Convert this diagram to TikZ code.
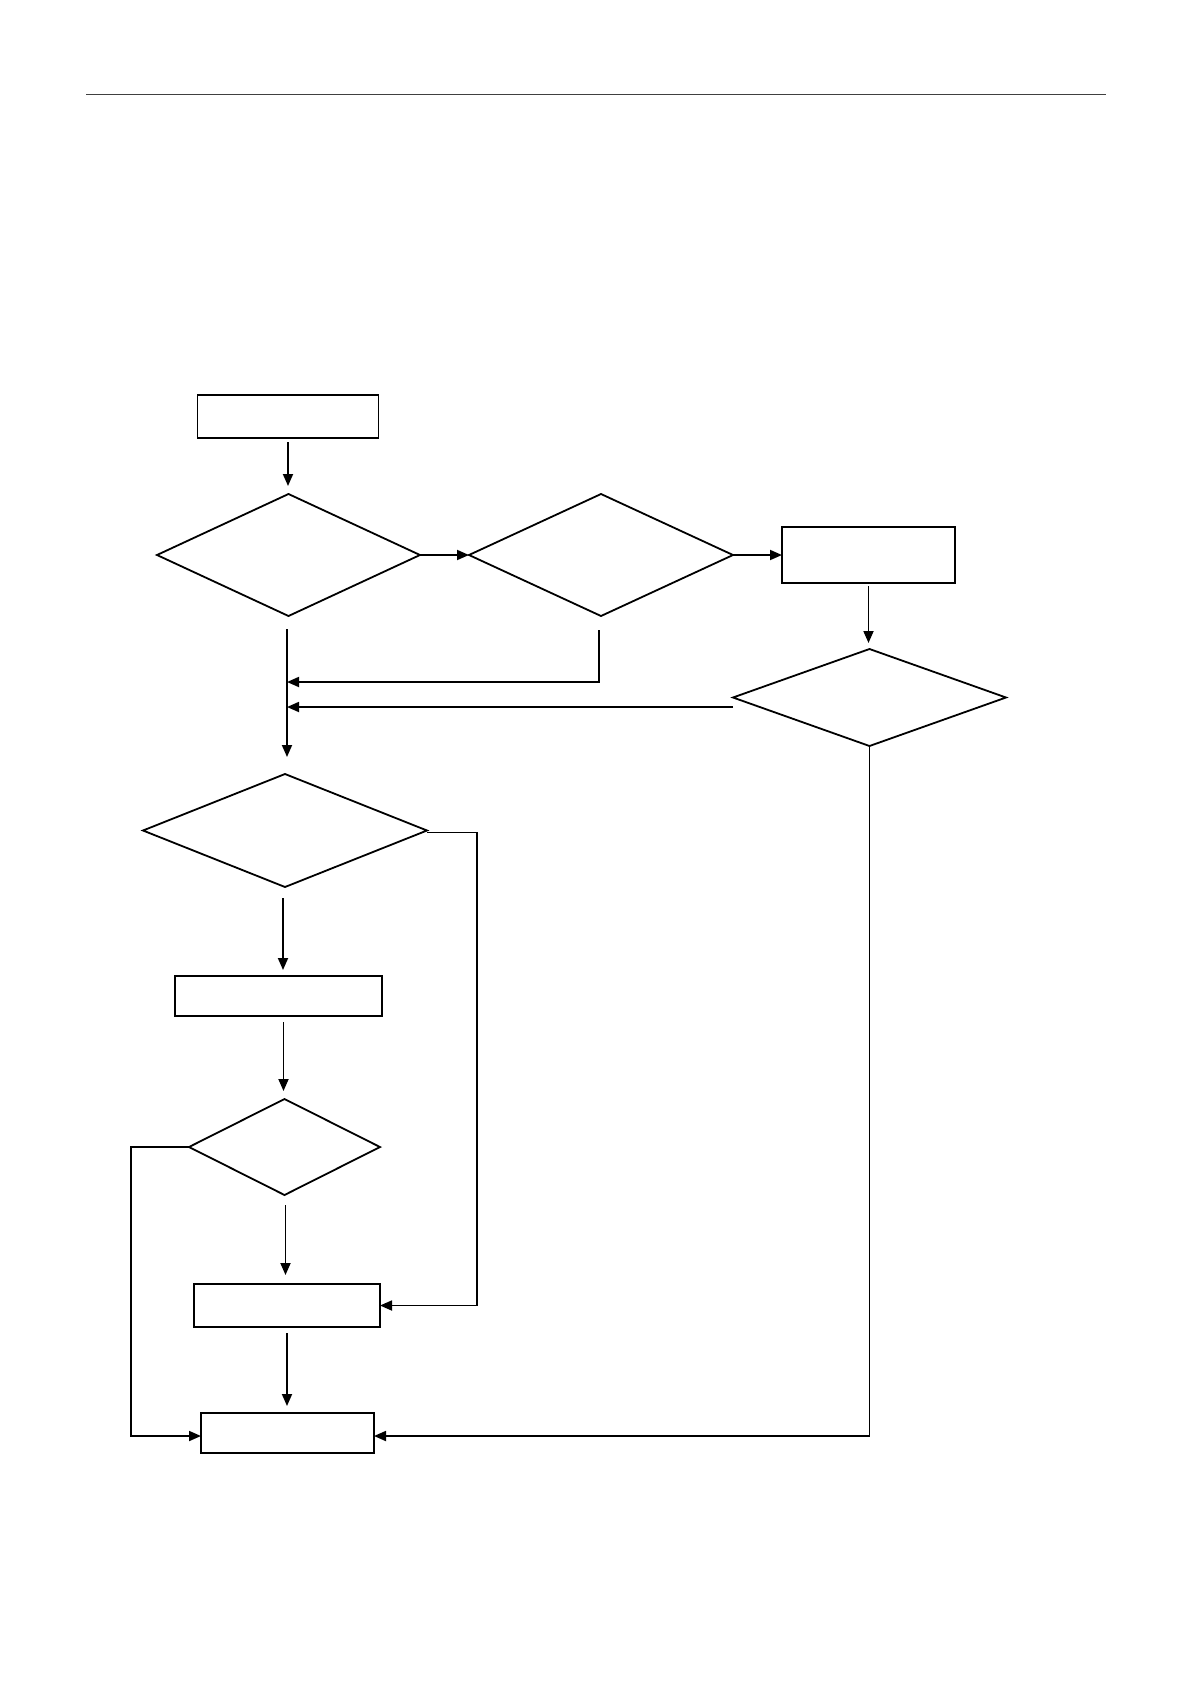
\documentclass[tikz,border=0pt]{standalone}
\usetikzlibrary{arrows.meta,shapes.geometric}
\begin{document}
\begin{tikzpicture}[x=1pt,y=-1pt,
  line width=1.8pt,
  boxnode/.style={draw,rectangle,inner sep=0pt,outer sep=0pt},
  dianode/.style={draw,diamond,inner sep=0pt,outer sep=0pt},
  arr/.style={-{Triangle[length=12pt,width=10pt]}}]
\useasboundingbox (0,0) rectangle (1191,1684);
\draw[line width=1pt,black!75] (86,94.5) coordinate (rl) -- (1106,94.5) coordinate (rr);

\node[boxnode,minimum width=181pt,minimum height=43pt] (b1) at (288,416.5) {};
\node[dianode,minimum width=263pt,minimum height=122pt] (d1) at (288.5,555) {};
\node[dianode,minimum width=264pt,minimum height=122pt] (d2) at (601,555) {};
\node[boxnode,minimum width=173pt,minimum height=56pt] (b2) at (868.5,555) {};
\node[dianode,minimum width=273pt,minimum height=97pt] (d3) at (869.5,697.5) {};
\node[dianode,minimum width=284pt,minimum height=113pt] (d4) at (285,830.5) {};
\node[boxnode,minimum width=207pt,minimum height=40pt] (b3) at (278.5,996) {};
\node[dianode,minimum width=191pt,minimum height=96pt] (d5) at (284.5,1147) {};
\node[boxnode,minimum width=186pt,minimum height=43pt] (b4) at (287,1305.5) {};
\node[boxnode,minimum width=173pt,minimum height=40pt] (b5) at (287.5,1433) {};

\coordinate (j0) at (287,629);
\coordinate (j1) at (287,682);
\coordinate (j2) at (287,707);
\coordinate (d2c) at (599,630);
\coordinate (d2d) at (599,682);
\coordinate (d3l) at (733,707);

\draw[arr] ([yshift=-4pt]b1.south) -- ([yshift=8pt]b1.south |- d1.north);
\draw[arr] (d1.east) -- (d2.west);
\draw[arr] (d2.east) -- (b2.west);
\draw[arr] ([yshift=-3pt]b2.south) -- ([yshift=6pt]b2.south |- d3.north);
\draw[arr] (j0) -- ([yshift=17pt]j0 |- d4.north);
\draw[arr] (d2c) -- (d2d) -- (j1);
\draw[arr] (d3l) -- (j2);
\draw[arr] ([yshift=-2pt]d4.east) -- ++(50,0) |- (b4.east);
\draw[arr] ([xshift=-2pt,yshift=-11pt]d4.south) -- ([xshift=-2pt,yshift=6pt]d4.south |- b3.north);
\draw[arr] ([xshift=-1pt,yshift=-6pt]d5.north |- b3.south) -- ([xshift=-1pt,yshift=8pt]d5.north);
\draw[arr] (d5.west) -- ++(-58,0) |- ([yshift=-3pt]b5.west);
\draw[arr] ([xshift=1pt,yshift=-10pt]d5.south) -- ([xshift=1pt,yshift=9pt]d5.south |- b4.north);
\draw[arr] ([yshift=-6pt]b4.south) -- ([yshift=7pt]b4.south |- b5.north);
\draw[arr] (d3.south) |- ([yshift=-3pt]b5.east);
\end{tikzpicture}
\end{document}
